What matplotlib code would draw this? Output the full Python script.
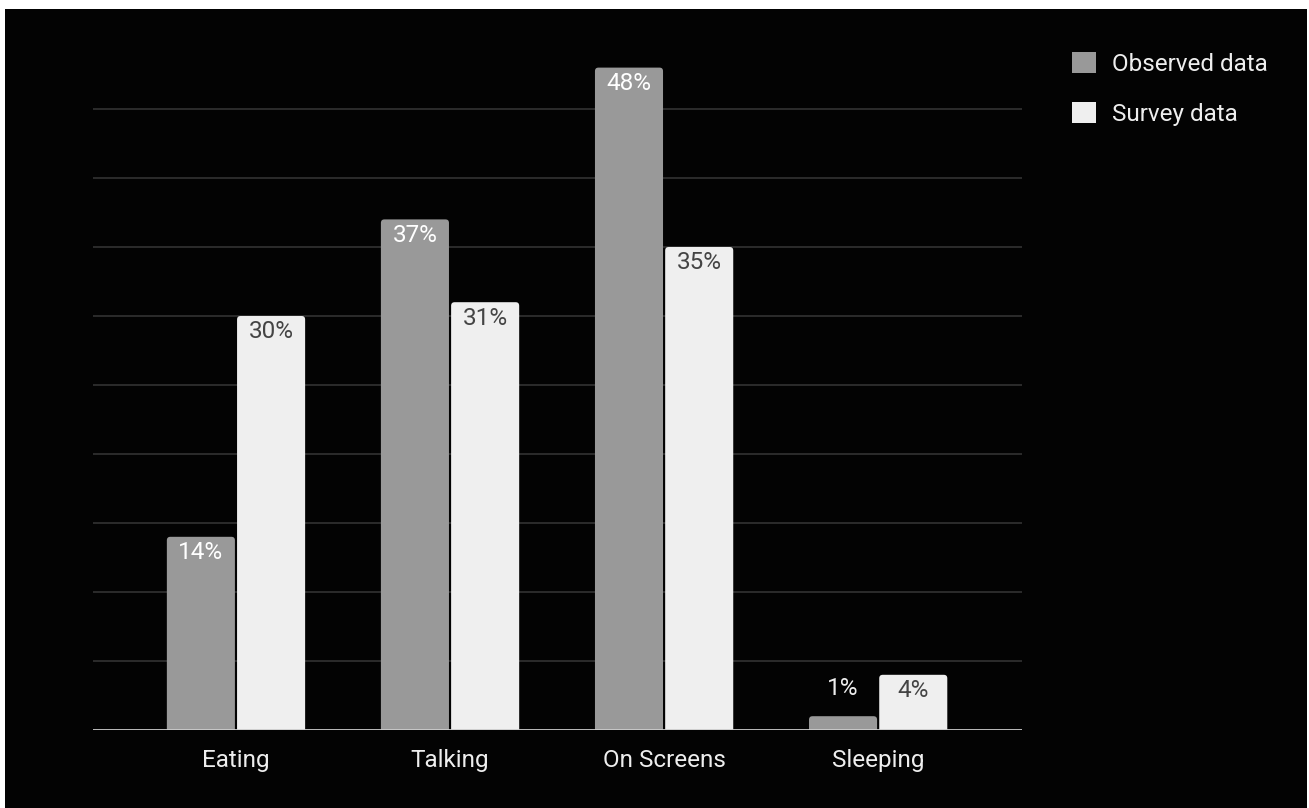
import numpy as np
import matplotlib
matplotlib.use("Agg")
from matplotlib import pyplot as plt
from matplotlib.patches import Rectangle, FancyBboxPatch, Patch

categories = ["Eating", "Talking", "On Screens", "Sleeping"]
observed = [14, 37, 48, 1]
survey = [30, 31, 35, 4]
series_names = ["Observed data", "Survey data"]
gridTicks = np.arange(5, 50, 5)

plt.rcParams['font.family'] = ['Roboto', 'DejaVu Sans']
FS = 17.5

W, H = 1309, 808
fig = plt.figure(figsize=(W / 100, H / 100), dpi=100, facecolor="white")
# dark panel with a thin white frame on the top and left
fig.patches.append(Rectangle((5 / W, 0), (1307 - 5) / W, (H - 9) / H,
                             transform=fig.transFigure, facecolor="#030303",
                             edgecolor="none", zorder=-5))

ax = fig.add_axes([93 / W, (H - 730) / H, (1022 - 93) / W, 690 / H])
ax.set_facecolor("none")
ax.set_xlim(-0.668, 3.672)
ax.set_ylim(0, 50)

for g in gridTicks:
    ax.axhline(g, color="#333333", lw=1.2, zorder=1)

x = np.arange(len(categories))
bw = 0.318
gap = 0.005

bars_obs = ax.bar(x - bw / 2 - gap, observed, bw, color="#999999", zorder=2)
bars_sur = ax.bar(x + bw / 2 + gap, survey, bw, color="#efefef", zorder=2)

# swap the plain bars for ones with slightly rounded tops
xpp = (ax.get_xlim()[1] - ax.get_xlim()[0]) / 929
ypp = (ax.get_ylim()[1] - ax.get_ylim()[0]) / 690
r = 3.5 * xpp
for rect in list(bars_obs) + list(bars_sur):
    x0, w, h = rect.get_x(), rect.get_width(), rect.get_height()
    fb = FancyBboxPatch((x0, -1), w, h + 1,
                        boxstyle="round,pad=0,rounding_size=%f" % r,
                        mutation_aspect=ypp / xpp,
                        facecolor=rect.get_facecolor(), edgecolor="none",
                        zorder=2, clip_on=True)
    ax.add_patch(fb)
    rect.set_visible(False)

ax.axhline(0, color="#cccccc", lw=2, zorder=3)

for xi, v in zip(x - bw / 2 - gap, observed):
    if v >= 4:
        ax.text(xi, v - 1.15, "%d%%" % v, ha="center", va="center",
                color="#ffffff", fontsize=FS, zorder=4)
    else:
        ax.text(xi, v + 2.0, "%d%%" % v, ha="center", va="center",
                color="#eeeeee", fontsize=FS, zorder=4)
for xi, v in zip(x + bw / 2 + gap, survey):
    ax.text(xi, v - 1.15, "%d%%" % v, ha="center", va="center",
            color="#444444", fontsize=FS, zorder=4)

ax.set_xticks(x)
ax.set_xticklabels(categories, color="#eeeeee", fontsize=FS)
ax.tick_params(axis="x", length=0, pad=14)
ax.set_yticks([])
for s in ax.spines.values():
    s.set_visible(False)

handles = [Patch(facecolor="#999999", edgecolor="none"),
           Patch(facecolor="#efefef", edgecolor="none")]
fig.legend(handles, series_names, loc="upper left",
           bbox_to_anchor=(1070 / W, (H - 50) / H), frameon=False,
           fontsize=FS, labelcolor="#eeeeee", handlelength=0.95,
           handleheight=0.95, handletextpad=0.68, labelspacing=1.05,
           borderaxespad=0, borderpad=0.1)

fig.savefig("out.png", dpi=100, facecolor=fig.get_facecolor())
